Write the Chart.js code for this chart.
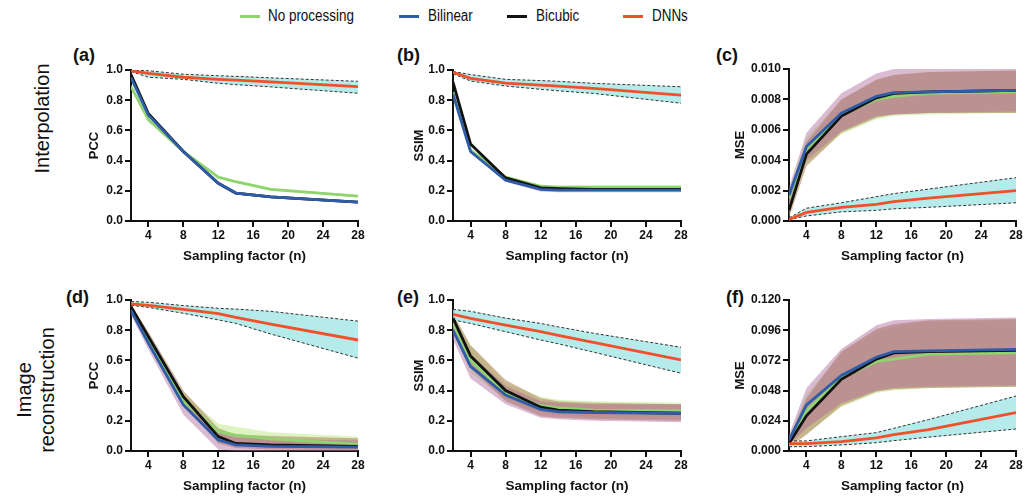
<!DOCTYPE html>
<html>
<head>
<meta charset="utf-8">
<script src="https://cdn.jsdelivr.net/npm/chart.js@4.4.0/dist/chart.umd.min.js"></script>
<style>
  body { margin: 0; background: #fff; width: 1026px; height: 500px; position: relative; overflow: hidden;
         font-family: "Liberation Sans", Arial, sans-serif; color: #111; }
  canvas { position: absolute; }
  .plab { position: absolute; font-weight: bold; font-size: 18px; line-height: 20px; }
  .legline { position: absolute; height: 3px; width: 20px; top: 15px; }
  .legtxt { position: absolute; top: 7px; font-size: 16px; line-height: 18px; transform: scaleX(0.84); transform-origin: 0 50%; }
  .row { position: absolute; width: 220px; text-align: center; font-size: 20px; line-height: 23px; transform: rotate(-90deg); }
</style>
</head>
<body>

<div class="legline" style="left:240px;background:#8fd46f"></div><div class="legtxt" style="left:268px">No processing</div>
<div class="legline" style="left:399px;background:#2f5ca8"></div><div class="legtxt" style="left:428px">Bilinear</div>
<div class="legline" style="left:507px;background:#111"></div><div class="legtxt" style="left:536px">Bicubic</div>
<div class="legline" style="left:623px;background:#f0502a"></div><div class="legtxt" style="left:652px">DNNs</div>

<div class="row" style="left:-68px;top:107px">Interpolation</div>
<div class="row" style="left:-74px;top:367px">Image<br>reconstruction</div>

<div class="plab" style="left:73px;top:45px">(a)</div>
<div class="plab" style="left:397px;top:45px">(b)</div>
<div class="plab" style="left:716px;top:45px">(c)</div>
<div class="plab" style="left:66px;top:287px">(d)</div>
<div class="plab" style="left:397px;top:287px">(e)</div>
<div class="plab" style="left:726px;top:287px">(f)</div>

<canvas id="ca"></canvas>
<canvas id="cb"></canvas>
<canvas id="cc"></canvas>
<canvas id="cd"></canvas>
<canvas id="ce"></canvas>
<canvas id="cf"></canvas>

<script>
// sampling factors and ticks
const factors = [2, 4, 8, 12, 14, 18, 28];
const xTicks = [4, 8, 12, 16, 20, 24, 28];
const unitTicks = [0, 0.2, 0.4, 0.6, 0.8, 1.0];
const mseTicksTop = [0, 0.002, 0.004, 0.006, 0.008, 0.010];
const mseTicksBottom = [0, 0.024, 0.048, 0.072, 0.096, 0.120];

// (a) interpolation PCC
const aDnn = [0.995, 0.978, 0.952, 0.938, 0.933, 0.922, 0.89];
const aDnnLo = [0.99, 0.952, 0.938, 0.912, 0.903, 0.888, 0.846];
const aDnnHi = [0.998, 0.995, 0.972, 0.962, 0.958, 0.948, 0.925];
const aNone = [0.89, 0.67, 0.46, 0.29, 0.26, 0.21, 0.165];
const aNoneLo = [0.88, 0.66, 0.45, 0.28, 0.25, 0.20, 0.157];
const aNoneHi = [0.90, 0.68, 0.47, 0.30, 0.27, 0.22, 0.173];
const aBilin = [0.95, 0.70, 0.46, 0.25, 0.185, 0.16, 0.125];
const aBilinLo = [0.94, 0.69, 0.45, 0.242, 0.177, 0.152, 0.117];
const aBilinHi = [0.96, 0.71, 0.47, 0.258, 0.193, 0.168, 0.133];
const aBicub = [0.97, 0.71, 0.46, 0.25, 0.185, 0.16, 0.125];
const aBicubLo = [0.96, 0.70, 0.45, 0.242, 0.177, 0.152, 0.117];
const aBicubHi = [0.98, 0.72, 0.47, 0.258, 0.193, 0.168, 0.133];

// (b) interpolation SSIM
const bDnn = [0.985, 0.945, 0.913, 0.90, 0.893, 0.878, 0.834];
const bDnnLo = [0.975, 0.927, 0.894, 0.872, 0.862, 0.845, 0.78];
const bDnnHi = [0.99, 0.97, 0.938, 0.93, 0.925, 0.912, 0.889];
const bNone = [0.85, 0.47, 0.29, 0.23, 0.225, 0.225, 0.225];
const bNoneLo = [0.84, 0.46, 0.28, 0.22, 0.215, 0.215, 0.215];
const bNoneHi = [0.86, 0.48, 0.30, 0.24, 0.235, 0.235, 0.235];
const bBilin = [0.84, 0.46, 0.27, 0.21, 0.205, 0.205, 0.205];
const bBilinLo = [0.83, 0.45, 0.26, 0.195, 0.19, 0.19, 0.19];
const bBilinHi = [0.85, 0.47, 0.28, 0.22, 0.215, 0.215, 0.215];
const bBicub = [0.92, 0.51, 0.285, 0.22, 0.215, 0.21, 0.21];
const bBicubLo = [0.91, 0.50, 0.275, 0.21, 0.205, 0.20, 0.20];
const bBicubHi = [0.93, 0.52, 0.295, 0.23, 0.225, 0.22, 0.22];

// (c) interpolation MSE
const cDnn = [0.0001, 0.00057, 0.0009, 0.0011, 0.00127, 0.0015, 0.0020];
const cDnnLo = [0.0001, 0.00033, 0.0006, 0.0007, 0.0008, 0.0009, 0.0012];
const cDnnHi = [0.0002, 0.00084, 0.0012, 0.0016, 0.0018, 0.0021, 0.00285];
const cNone = [0.0015, 0.0047, 0.0070, 0.0080, 0.0082, 0.0084, 0.0085];
const cNoneLo = [0.0008, 0.0038, 0.0057, 0.0067, 0.0069, 0.0070, 0.0071];
const cNoneHi = [0.0020, 0.0055, 0.0080, 0.0093, 0.0096, 0.0098, 0.0099];
const cBilin = [0.0017, 0.0049, 0.0071, 0.0082, 0.00845, 0.0085, 0.0086];
const cBilinLo = [0.0010, 0.0040, 0.0059, 0.0069, 0.0070, 0.0071, 0.0072];
const cBilinHi = [0.0022, 0.0058, 0.0084, 0.0097, 0.0100, 0.0100, 0.0100];
const cBicub = [0.0007, 0.0044, 0.0069, 0.0081, 0.0084, 0.0085, 0.0086];
const cBicubLo = [0.0002, 0.0036, 0.0058, 0.0068, 0.0070, 0.0071, 0.0071];
const cBicubHi = [0.0012, 0.0052, 0.0080, 0.0093, 0.0096, 0.0098, 0.0099];

// (d) reconstruction PCC
const dDnn = [0.975, 0.965, 0.938, 0.91, 0.885, 0.84, 0.735];
const dDnnLo = [0.965, 0.951, 0.912, 0.868, 0.845, 0.775, 0.615];
const dDnnHi = [0.99, 0.985, 0.963, 0.945, 0.94, 0.925, 0.86];
const dNone = [0.94, 0.735, 0.33, 0.13, 0.105, 0.08, 0.045];
const dNoneLo = [0.92, 0.70, 0.29, 0.08, 0.05, 0.03, 0.01];
const dNoneHi = [0.96, 0.77, 0.38, 0.18, 0.16, 0.125, 0.095];
const dBilin = [0.93, 0.713, 0.305, 0.073, 0.04, 0.03, 0.025];
const dBilinLo = [0.90, 0.67, 0.24, 0.01, 0.0, 0.0, 0.0];
const dBilinHi = [0.95, 0.74, 0.34, 0.12, 0.09, 0.08, 0.07];
const dBicub = [0.955, 0.757, 0.36, 0.095, 0.05, 0.04, 0.03];
const dBicubLo = [0.93, 0.72, 0.31, 0.05, 0.02, 0.01, 0.005];
const dBicubHi = [0.97, 0.79, 0.40, 0.15, 0.11, 0.10, 0.085];

// (e) reconstruction SSIM
const eDnn = [0.905, 0.879, 0.834, 0.79, 0.765, 0.72, 0.603];
const eDnnLo = [0.868, 0.845, 0.79, 0.735, 0.71, 0.655, 0.515];
const eDnnHi = [0.938, 0.925, 0.88, 0.845, 0.822, 0.78, 0.687];
const eNone = [0.85, 0.60, 0.385, 0.30, 0.285, 0.27, 0.265];
const eNoneLo = [0.80, 0.52, 0.34, 0.25, 0.24, 0.22, 0.21];
const eNoneHi = [0.90, 0.70, 0.45, 0.36, 0.34, 0.33, 0.32];
const eBilin = [0.80, 0.56, 0.37, 0.275, 0.26, 0.255, 0.25];
const eBilinLo = [0.74, 0.48, 0.31, 0.22, 0.21, 0.20, 0.19];
const eBilinHi = [0.86, 0.64, 0.43, 0.33, 0.32, 0.31, 0.31];
const eBicub = [0.88, 0.63, 0.40, 0.29, 0.27, 0.26, 0.25];
const eBicubLo = [0.84, 0.55, 0.33, 0.23, 0.22, 0.21, 0.20];
const eBicubHi = [0.91, 0.70, 0.47, 0.35, 0.33, 0.32, 0.31];

// (f) reconstruction MSE
const fDnn = [0.0058, 0.0058, 0.0074, 0.0105, 0.013, 0.017, 0.0305];
const fDnnLo = [0.0034, 0.0035, 0.0048, 0.0066, 0.0082, 0.011, 0.0175];
const fDnnHi = [0.008, 0.008, 0.0114, 0.0146, 0.018, 0.025, 0.0437];
const fNone = [0.007, 0.032, 0.058, 0.071, 0.073, 0.077, 0.078];
const fNoneLo = [0.004, 0.014, 0.035, 0.046, 0.048, 0.050, 0.051];
const fNoneHi = [0.011, 0.045, 0.078, 0.095, 0.099, 0.103, 0.104];
const fBilin = [0.0087, 0.0366, 0.060, 0.0745, 0.079, 0.0795, 0.0808];
const fBilinLo = [0.005, 0.018, 0.038, 0.048, 0.050, 0.051, 0.052];
const fBilinHi = [0.013, 0.050, 0.081, 0.100, 0.104, 0.105, 0.106];
const fBicub = [0.006, 0.028, 0.057, 0.073, 0.078, 0.079, 0.080];
const fBicubLo = [0.003, 0.013, 0.036, 0.047, 0.049, 0.050, 0.051];
const fBicubHi = [0.010, 0.042, 0.079, 0.097, 0.101, 0.104, 0.105];

const GREEN = '#8fd46f', BLUE = '#2f5ca8', BLACK = '#111111', RED = '#f0502a';
const FONT = '"Liberation Sans", Arial, sans-serif';

function pts(ys) {
  return factors.map((x, i) => ({ x: x, y: ys[i] }));
}

function meanLine(ys, color) {
  return { data: pts(ys), borderColor: color, borderWidth: 2.8, fill: false };
}
function bandEdge(ys) {
  return { data: pts(ys), borderColor: 'rgba(0,0,0,0)', borderWidth: 0, fill: false };
}
function bandTop(ys, color) {
  return { data: pts(ys), borderColor: 'rgba(0,0,0,0)', borderWidth: 0, fill: { target: '-1' }, backgroundColor: color };
}
function dashed(ys, fillColor) {
  const ds = { data: pts(ys), borderColor: '#333', borderWidth: 1, borderDash: [3, 2], fill: false };
  if (fillColor) { ds.fill = { target: '-1' }; ds.backgroundColor = fillColor; }
  return ds;
}

// box: chart area left/right/top/bottom in page px, yW = width of y axis block, titlePad = y title padding
function panel(id, box, yW, titlePad, yTitle, yTicks, digits, s) {
  const padTop = 25, padRight = 12, xH = 44;
  const cv = document.getElementById(id);
  const left = box.L - yW;
  cv.width = box.R - left + padRight;
  cv.height = padTop + (box.B - box.T) + xH;
  cv.style.left = left + 'px';
  cv.style.top = (box.T - padTop) + 'px';

  const datasets = [
    meanLine(s.dnn, RED),
    meanLine(s.bilin, BLUE),
    meanLine(s.bicub, BLACK),
    meanLine(s.none, GREEN),
    dashed(s.dnnLo),
    dashed(s.dnnHi, 'rgba(160,230,228,0.78)'),
    bandEdge(s.bilinLo),
    bandTop(s.bilinHi, 'rgba(175,105,155,0.45)'),
    bandEdge(s.bicubLo),
    bandTop(s.bicubHi, 'rgba(180,140,100,0.6)'),
    bandEdge(s.noneLo),
    bandTop(s.noneHi, 'rgba(180,230,120,0.45)')
  ];

  const axisCommon = {
    type: 'linear',
    grid: { display: true, drawOnChartArea: false, drawTicks: true, tickLength: 6, lineWidth: 2, color: '#111' },
    border: { display: true, color: '#111', width: 2 }
  };

  new Chart(cv, {
    type: 'line',
    data: { datasets: datasets },
    options: {
      responsive: false,
      animation: false,
      devicePixelRatio: 1,
      layout: { padding: { top: padTop, right: padRight, left: 0, bottom: 0 } },
      elements: { point: { radius: 0 }, line: { tension: 0 } },
      plugins: { legend: { display: false }, tooltip: { enabled: false } },
      scales: {
        x: Object.assign({}, axisCommon, {
          min: 2, max: 28,
          afterBuildTicks: sc => { sc.ticks = xTicks.map(v => ({ value: v })); },
          afterFit: sc => { sc.height = xH; },
          ticks: { color: '#111', padding: 1, maxRotation: 0, font: { family: FONT, size: 12, weight: 'bold' } },
          title: { display: true, text: 'Sampling factor (n)', color: '#111', padding: { top: 0, bottom: 0.9 },
                   font: { family: FONT, size: 13.5, weight: 'bold' } }
        }),
        y: Object.assign({}, axisCommon, {
          min: yTicks[0], max: yTicks[yTicks.length - 1],
          afterBuildTicks: sc => { sc.ticks = yTicks.map(v => ({ value: v })); },
          afterFit: sc => { sc.width = yW; },
          ticks: { color: '#111', padding: 2, font: { family: FONT, size: 12, weight: 'bold' },
                   callback: v => Number(v).toFixed(digits) },
          title: { display: true, text: yTitle, color: '#111', padding: { top: titlePad, bottom: 0 },
                   font: { family: FONT, size: 13, weight: 'bold' } }
        })
      }
    }
  });
}

panel('ca', { L: 131, R: 358, T: 70, B: 221 }, 71, 26.2, 'PCC', unitTicks, 1,
  { dnn: aDnn, dnnLo: aDnnLo, dnnHi: aDnnHi, none: aNone, noneLo: aNoneLo, noneHi: aNoneHi,
    bilin: aBilin, bilinLo: aBilinLo, bilinHi: aBilinHi, bicub: aBicub, bicubLo: aBicubLo, bicubHi: aBicubHi });
panel('cb', { L: 453, R: 681, T: 70, B: 221 }, 73, 31.2, 'SSIM', unitTicks, 1,
  { dnn: bDnn, dnnLo: bDnnLo, dnnHi: bDnnHi, none: bNone, noneLo: bNoneLo, noneHi: bNoneHi,
    bilin: bBilin, bilinLo: bBilinLo, bilinHi: bBilinHi, bicub: bBicub, bicubLo: bBicubLo, bicubHi: bBicubHi });
panel('cc', { L: 789, R: 1016, T: 69, B: 221 }, 99, 42.2, 'MSE', mseTicksTop, 3,
  { dnn: cDnn, dnnLo: cDnnLo, dnnHi: cDnnHi, none: cNone, noneLo: cNoneLo, noneHi: cNoneHi,
    bilin: cBilin, bilinLo: cBilinLo, bilinHi: cBilinHi, bicub: cBicub, bicubLo: cBicubLo, bicubHi: cBicubHi });
panel('cd', { L: 131, R: 358, T: 300, B: 451 }, 71, 26.2, 'PCC', unitTicks, 1,
  { dnn: dDnn, dnnLo: dDnnLo, dnnHi: dDnnHi, none: dNone, noneLo: dNoneLo, noneHi: dNoneHi,
    bilin: dBilin, bilinLo: dBilinLo, bilinHi: dBilinHi, bicub: dBicub, bicubLo: dBicubLo, bicubHi: dBicubHi });
panel('ce', { L: 453, R: 681, T: 300, B: 451 }, 73, 31.2, 'SSIM', unitTicks, 1,
  { dnn: eDnn, dnnLo: eDnnLo, dnnHi: eDnnHi, none: eNone, noneLo: eNoneLo, noneHi: eNoneHi,
    bilin: eBilin, bilinLo: eBilinLo, bilinHi: eBilinHi, bicub: eBicub, bicubLo: eBicubLo, bicubHi: eBicubHi });
panel('cf', { L: 789, R: 1016, T: 300, B: 451 }, 99, 42.2, 'MSE', mseTicksBottom, 3,
  { dnn: fDnn, dnnLo: fDnnLo, dnnHi: fDnnHi, none: fNone, noneLo: fNoneLo, noneHi: fNoneHi,
    bilin: fBilin, bilinLo: fBilinLo, bilinHi: fBilinHi, bicub: fBicub, bicubLo: fBicubLo, bicubHi: fBicubHi });
</script>
</body>
</html>
